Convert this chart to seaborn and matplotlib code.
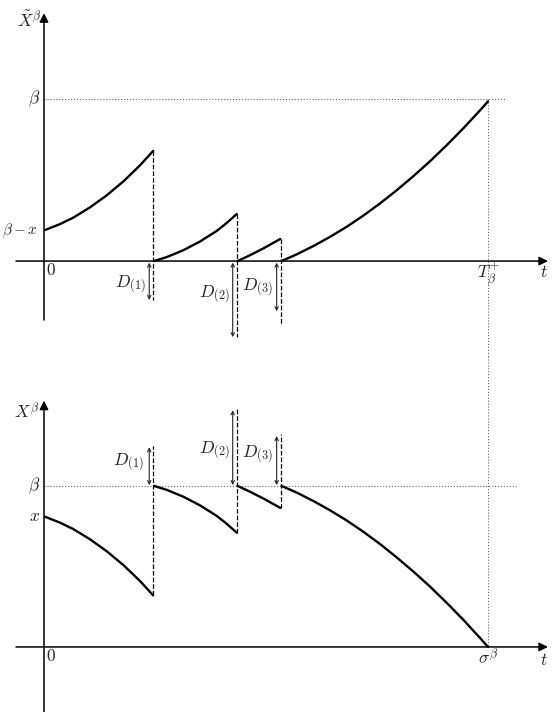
import pandas as pd
import seaborn as sns
import matplotlib.pyplot as plt

# jump times and level
t_jumps = [2.46, 4.34, 5.33]
t_end = 10.0
beta = 1.0
# excess of each jump (D_(i) drawn beyond the level)
d_excess = [0.24, 0.47, 0.31]
d_labels = [r'$D_{(1)}$', r'$D_{(2)}$', r'$D_{(3)}$']

# time points of each continuous piece
seg_t = [[0.02, 0.36, 0.66, 1.04, 1.41, 1.79, 2.16, 2.46],
         [2.48, 2.76, 3.14, 3.51, 3.89, 4.11, 4.34],
         [4.36, 4.64, 4.94, 5.32],
         [5.35, 5.69, 6.07, 6.44, 6.82, 7.19, 7.57, 7.94, 8.32, 8.69, 9.07, 9.44, 9.82, 10.0]]

# reflected process X~ (top panel)
seg_top_v = [[0.191, 0.228, 0.268, 0.332, 0.405, 0.492, 0.590, 0.680],
             [0.0, 0.024, 0.067, 0.120, 0.186, 0.234, 0.290],
             [0.0, 0.036, 0.078, 0.136],
             [0.0, 0.041, 0.093, 0.149, 0.212, 0.280, 0.356, 0.436, 0.524, 0.615, 0.715, 0.818, 0.930, 0.985]]

# process X (bottom panel)
seg_bot_v = [[0.809, 0.772, 0.732, 0.668, 0.595, 0.508, 0.410, 0.320],
             [1.0, 0.976, 0.933, 0.880, 0.814, 0.766, 0.710],
             [1.0, 0.964, 0.922, 0.864],
             [1.0, 0.959, 0.906, 0.849, 0.785, 0.716, 0.639, 0.557, 0.468, 0.376, 0.274, 0.170, 0.056, 0.0]]


def to_frame(ts, vs):
    rows = []
    for i, (tt, vv) in enumerate(zip(ts, vs)):
        for a, b in zip(tt, vv):
            rows.append({'t': a, 'v': b, 'seg': i})
    return pd.DataFrame(rows)


sns.set_style("white")
plt.rcParams['mathtext.fontset'] = 'cm'

fig = plt.figure(figsize=(5.57, 7.12), dpi=100)
ax = fig.add_axes([0, 0.5, 1, 0.5])
ax2 = fig.add_axes([0, 0, 1, 0.5])

xlim = (-0.991, 11.554)
for a in (ax, ax2):
    a.set_xlim(*xlim)
    a.set_axis_off()
ax.set_ylim(-0.586, 1.611)
ax2.set_ylim(-0.404, 1.807)

axis_kw = dict(arrowstyle='-|>', color='k', lw=1.1, mutation_scale=13, shrinkA=0, shrinkB=0)
dbl_kw = dict(arrowstyle='<->', color='#222233', lw=0.8, mutation_scale=6, shrinkA=0, shrinkB=0)
fs = 12.5
dot_c = '#666666'

# ---- top panel
ax.annotate('', xy=(0, 1.53), xytext=(0, -0.364), arrowprops=axis_kw)
ax.annotate('', xy=(11.35, 0), xytext=(-0.63, 0), arrowprops=axis_kw)
ax.plot([0, 10.38], [beta, beta], ls=':', color=dot_c, lw=0.8)
ax.plot([t_end, t_end], [beta, -0.586], ls=':', color=dot_c, lw=0.8, clip_on=False)

sns.lineplot(data=to_frame(seg_t, seg_top_v), x='t', y='v', units='seg',
             estimator=None, color='k', lw=1.7, ax=ax, legend=False)

top_low = [-0.24, -0.47, -0.39]
for i, tj in enumerate(t_jumps):
    ax.plot([tj, tj], [seg_top_v[i][-1], top_low[i]], ls='--', color='k', lw=0.9)
    ax.annotate('', xy=(tj - 0.09, -d_excess[i]), xytext=(tj - 0.09, -0.01), arrowprops=dbl_kw)

ax.text(-0.34, 1.48, r'$\tilde{X}^{\beta}$', fontsize=fs, ha='center', va='center')
ax.text(-0.09, beta, r'$\beta$', fontsize=fs, ha='right', va='center')
ax.text(-0.13, 0.185, r'$\beta - x$', fontsize=11, ha='right', va='center')
ax.text(0.04, -0.055, r'$0$', fontsize=fs, ha='left', va='center')
ax.text(2.30, -0.148, d_labels[0], fontsize=fs, ha='right', va='center')
ax.text(4.19, -0.21, d_labels[1], fontsize=fs, ha='right', va='center')
ax.text(5.16, -0.167, d_labels[2], fontsize=fs, ha='right', va='center')
ax.text(t_end, -0.085, r'$T_{\beta}^{+}$', fontsize=fs, ha='center', va='center')
ax.text(11.26, -0.07, r'$t$', fontsize=fs, ha='center', va='center')

# ---- bottom panel
ax2.annotate('', xy=(0, 1.53), xytext=(0, -0.404), arrowprops=axis_kw)
ax2.annotate('', xy=(11.35, 0), xytext=(-0.63, 0), arrowprops=axis_kw)
ax2.plot([0, 10.65], [beta, beta], ls=':', color=dot_c, lw=0.8)
ax2.plot([t_end, t_end], [1.807, 0], ls=':', color=dot_c, lw=0.8, clip_on=False)

sns.lineplot(data=to_frame(seg_t, seg_bot_v), x='t', y='v', units='seg',
             estimator=None, color='k', lw=1.7, ax=ax2, legend=False)

bot_high = [1.25, 1.48, 1.32]
for i, tj in enumerate(t_jumps):
    ax2.plot([tj, tj], [seg_bot_v[i][-1], bot_high[i]], ls='--', color='k', lw=0.9)
    ax2.annotate('', xy=(tj - 0.09, beta + d_excess[i]), xytext=(tj - 0.09, beta + 0.005),
                 arrowprops=dbl_kw)

ax2.text(-0.38, 1.46, r'$X^{\beta}$', fontsize=fs, ha='center', va='center')
ax2.text(-0.09, beta, r'$\beta$', fontsize=fs, ha='right', va='center')
ax2.text(-0.09, 0.814, r'$x$', fontsize=fs, ha='right', va='center')
ax2.text(0.04, -0.056, r'$0$', fontsize=fs, ha='left', va='center')
ax2.text(2.25, 1.143, d_labels[0], fontsize=fs, ha='right', va='center')
ax2.text(4.19, 1.217, d_labels[1], fontsize=fs, ha='right', va='center')
ax2.text(5.16, 1.19, d_labels[2], fontsize=fs, ha='right', va='center')
ax2.text(t_end, -0.075, r'$\sigma^{\beta}$', fontsize=fs, ha='center', va='center')
ax2.text(11.26, -0.08, r'$t$', fontsize=fs, ha='center', va='center')

fig.savefig('out.png', dpi=100)
